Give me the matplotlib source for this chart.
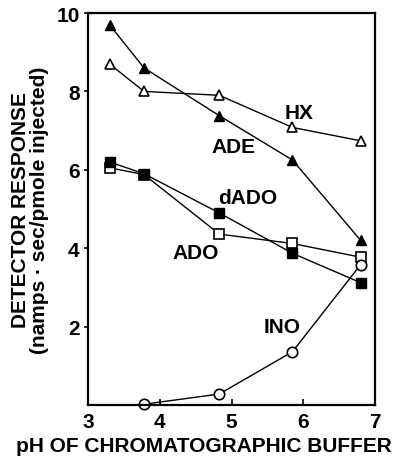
import matplotlib
matplotlib.use("Agg")
import matplotlib.pyplot as plt

plt.rcParams['font.family'] = ['Liberation Sans', 'DejaVu Sans']
plt.rcParams['font.weight'] = 'bold'

ph = [3.3, 3.78, 4.83, 5.85, 6.8]
ade = [9.7, 8.6, 7.38, 6.25, 4.2]
hx = [8.7, 8.0, 7.9, 7.08, 6.74]
dado = [6.2, 5.9, 4.9, 3.87, 3.12]
ado = [6.05, 5.88, 4.36, 4.12, 3.77]
ph_ino = [3.78, 4.83, 5.85, 6.8]
ino = [0.02, 0.28, 1.36, 3.58]

fig = plt.figure(figsize=(3.99, 4.6), dpi=100)
ax = fig.add_axes([88 / 399, 54 / 460, 287 / 399, 392 / 460])

kw = dict(color='black', lw=1.0, markersize=7.5, clip_on=False)
ax.plot(ph, hx, marker='^', mfc='white', mec='black', mew=1.2, **kw)
ax.plot(ph, ade, marker='^', mfc='black', **kw)
ax.plot(ph, ado, marker='s', mfc='white', mec='black', mew=1.2, **kw)
ax.plot(ph, dado, marker='s', mfc='black', **kw)
ax.plot(ph_ino, ino, marker='o', mfc='white', mec='black', mew=1.2, **kw)

lab = dict(fontsize=15, fontweight='bold', ha='center', va='center')
ax.text(5.94, 7.45, 'HX', **lab)
ax.text(5.03, 6.6, 'ADE', **lab)
ax.text(5.23, 5.3, 'dADO', **lab)
ax.text(4.5, 3.9, 'ADO', **lab)
ax.text(5.7, 2.0, 'INO', **lab)

ax.set_xlim(3, 7)
ax.set_ylim(0, 10)
ax.set_xticks([3, 4, 5, 6, 7])
ax.set_yticks([2, 4, 6, 8, 10])
ax.tick_params(axis='x', direction='in', length=4, width=1.2, labelsize=15, pad=5)
ax.tick_params(axis='y', direction='out', length=3, width=1.2, labelsize=15, pad=3)
for s in ax.spines.values():
    s.set_linewidth(1.6)

ax.set_xlabel('pH OF CHROMATOGRAPHIC BUFFER', fontsize=15, fontweight='bold')
ax.xaxis.set_label_coords((204 - 88) / 287, -0.078)
ax.set_ylabel('DETECTOR RESPONSE\n(namps · sec/pmole injected)', fontsize=15,
              fontweight='bold', labelpad=5, linespacing=1.0)

fig.savefig('out.png', dpi=100)
